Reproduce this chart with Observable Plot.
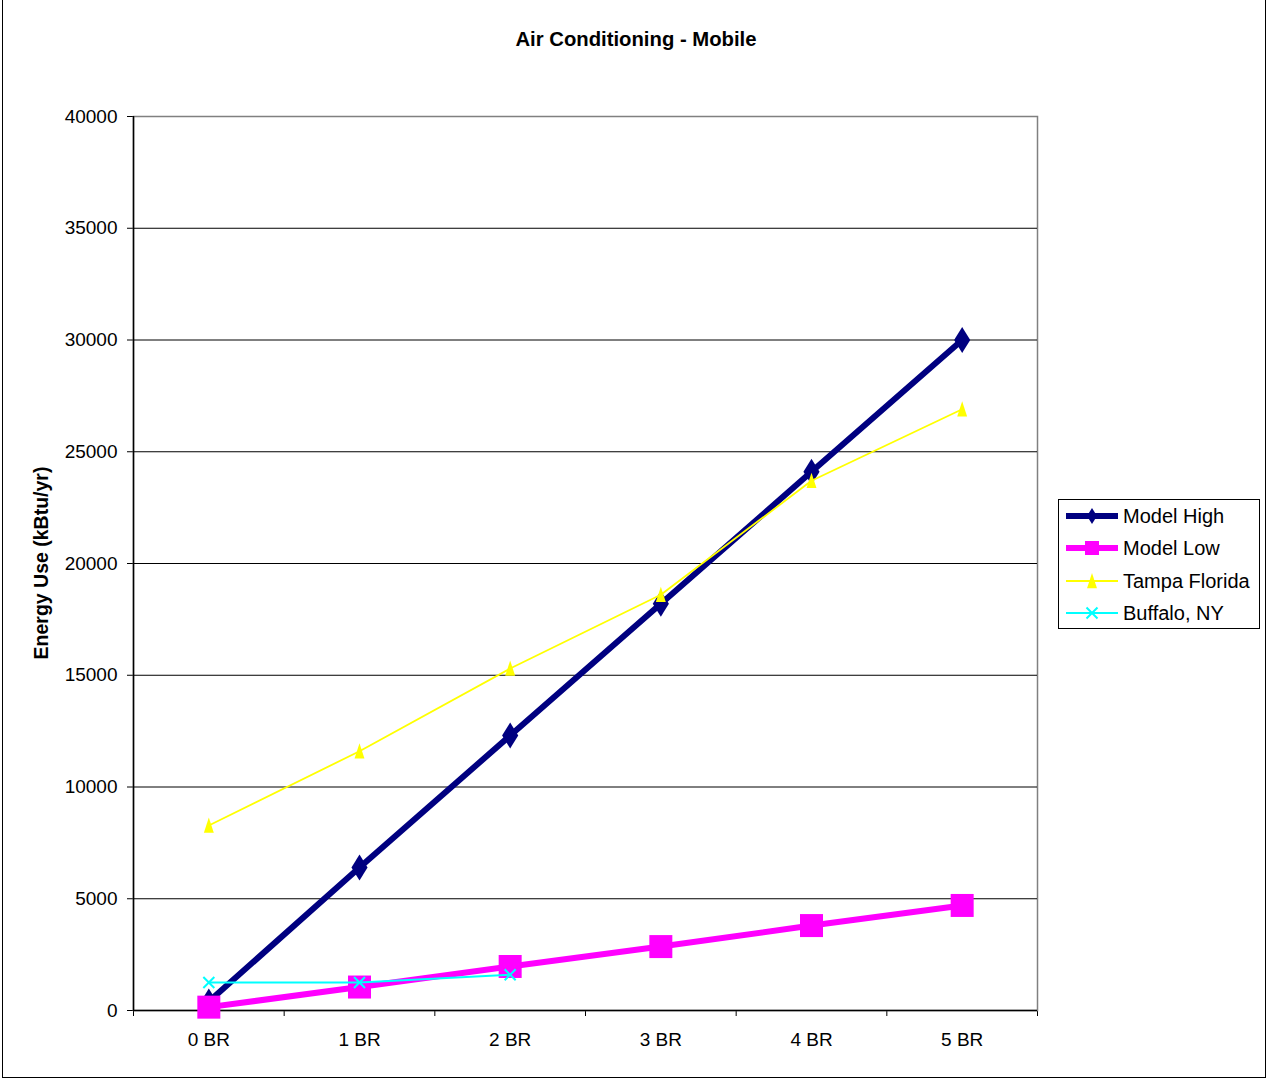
<!DOCTYPE html>
<html>
<head>
<meta charset="utf-8">
<script src="https://cdn.jsdelivr.net/npm/d3@7"></script>
<script src="https://cdn.jsdelivr.net/npm/@observablehq/plot@0.6"></script>
<style>
  html, body { margin: 0; padding: 0; background: #fff; }
  #wrap { position: relative; width: 1268px; height: 1078px; font-family: Arial, "Liberation Sans", sans-serif; overflow: hidden; }
  #border { position: absolute; left: 2px; top: -1px; width: 1264px; height: 1079px; border: 1px solid #000; box-sizing: border-box; pointer-events: none; }
  #title { position: absolute; left: 0; width: 1272px; top: 27px; text-align: center; font-weight: bold; font-size: 20.3px; line-height: 24px; }
  #ylabel { position: absolute; left: 41px; top: 563px; transform: translate(-50%, -50%) rotate(-90deg); white-space: nowrap; font-weight: bold; font-size: 19.5px; line-height: 22px; }
  #legend { position: absolute; left: 1058px; top: 499px; width: 202px; height: 130px; border: 1px solid #000; box-sizing: border-box; background: #fff; }
  .row { position: absolute; left: 6px; height: 26px; display: flex; align-items: center; font-size: 20px; white-space: nowrap; }
  .row svg { margin-right: 4px; }
  #chart { position: absolute; left: 0; top: 0; }
</style>
</head>
<body>
<div id="wrap">
  <div id="chart"></div>
  <div id="title"></div>
  <div id="ylabel"></div>
  <div id="legend"></div>
  <div id="border"></div>
</div>
<script>
const chartTitle = "Air Conditioning - Mobile";
const yLabel = "Energy Use (kBtu/yr)";
const categories = ["0 BR", "1 BR", "2 BR", "3 BR", "4 BR", "5 BR"];
const seriesNames = ["Model High", "Model Low", "Tampa Florida", "Buffalo, NY"];
const modelHigh = [400, 6400, 12300, 18200, 24100, 30000];
const modelLow = [150, 1050, 1970, 2860, 3800, 4700];
const tampaFlorida = [8280, 11600, 15300, 18600, 23700, 26900];
const buffaloNY = [1250, 1250, 1600];
const yTicks = [0, 5000, 10000, 15000, 20000, 25000, 30000, 35000, 40000];

// custom marker shapes (Excel-like)
function sym(fn) { return { draw(ctx, size) { fn(ctx, Math.sqrt(size / Math.PI)); } }; }
const diamond = sym((c, s) => { c.moveTo(0, -s); c.lineTo(0.62 * s, 0); c.lineTo(0, s); c.lineTo(-0.62 * s, 0); c.closePath(); });
const square = sym((c, s) => { c.moveTo(-s, -s); c.lineTo(s, -s); c.lineTo(s, s); c.lineTo(-s, s); c.closePath(); });
const triangle = sym((c, s) => { c.moveTo(0, -s); c.lineTo(0.62 * s, 0.9 * s); c.lineTo(-0.62 * s, 0.9 * s); c.closePath(); });
const times = sym((c, s) => { c.moveTo(-s, -s); c.lineTo(s, s); c.moveTo(s, -s); c.lineTo(-s, s); });

const styles = [
  { values: modelHigh, color: "#000080", width: 6, symbol: diamond, r: 13, fill: true },
  { values: modelLow, color: "#FF00FF", width: 6, symbol: square, r: 11.5, fill: true },
  { values: tampaFlorida, color: "#FFFF00", width: 1.8, symbol: triangle, r: 8, fill: true },
  { values: buffaloNY, color: "#00FFFF", width: 2, symbol: times, r: 5.5, fill: false }
];

const seriesMarks = [];
styles.forEach((s, k) => {
  const data = s.values.map((v, i) => ({ i, v, series: seriesNames[k] }));
  seriesMarks.push(Plot.line(data, { x: "i", y: "v", stroke: s.color, strokeWidth: s.width }));
  seriesMarks.push(Plot.dot(data, s.fill
    ? { x: "i", y: "v", symbol: () => s.symbol, r: s.r, fill: s.color, stroke: "none" }
    : { x: "i", y: "v", symbol: () => s.symbol, r: s.r, fill: "none", stroke: s.color, strokeWidth: 2 }));
});

const xDomain = [-0.5, categories.length - 0.5];
const boundaries = categories.map((_, i) => i - 0.5).concat([categories.length - 0.5]);

const chart = Plot.plot({
  width: 1268,
  height: 1078,
  marginLeft: 133,
  marginRight: 231,
  marginTop: 116,
  marginBottom: 68,
  style: { fontFamily: "Arial, 'Liberation Sans', sans-serif", fontSize: "19px", background: "transparent", color: "#000", overflow: "visible" },
  x: { type: "linear", domain: xDomain, ticks: boundaries, tickFormat: () => "", tickSize: 6, label: null },
  y: { domain: [0, 40000], ticks: yTicks, tickFormat: d3.format("d"), tickSize: 6, tickPadding: 10, label: null },
  symbol: { type: "identity" },
  marks: [
    Plot.frame({ stroke: "#808080", strokeWidth: 1.5 }),
    Plot.ruleY(yTicks.slice(1, -1), { stroke: "#000", strokeWidth: 1 }),
    Plot.ruleX([xDomain[0]], { stroke: "#000", strokeWidth: 1.5 }),
    Plot.ruleY([0], { stroke: "#000", strokeWidth: 1.5 }),
    ...seriesMarks,
    Plot.text(categories, { x: (d, i) => i, frameAnchor: "bottom", dy: 35, fontSize: 19, fill: "#000" })
  ]
});
document.getElementById("chart").appendChild(chart);

document.getElementById("title").textContent = chartTitle;
document.getElementById("ylabel").textContent = yLabel;

// legend
const legend = document.getElementById("legend");
const rowTops = [3, 35, 68, 100];
styles.forEach((s, k) => {
  const row = document.createElement("div");
  row.className = "row";
  row.style.top = rowTops[k] + "px";
  const ns = "http://www.w3.org/2000/svg";
  const svg = document.createElementNS(ns, "svg");
  svg.setAttribute("width", 54);
  svg.setAttribute("height", 26);
  const line = document.createElementNS(ns, "line");
  line.setAttribute("x1", 1); line.setAttribute("x2", 53);
  line.setAttribute("y1", 13); line.setAttribute("y2", 13);
  line.setAttribute("stroke", s.color);
  line.setAttribute("stroke-width", s.width);
  svg.appendChild(line);
  const p = document.createElementNS(ns, "path");
  const sz = k === 1 ? 7 : k === 0 ? 8 : s.r;
  p.setAttribute("d", d3.symbol(s.symbol, sz * sz * Math.PI)());
  p.setAttribute("transform", "translate(27,13)");
  if (s.fill) { p.setAttribute("fill", s.color); }
  else { p.setAttribute("fill", "none"); p.setAttribute("stroke", s.color); p.setAttribute("stroke-width", 2); }
  svg.appendChild(p);
  row.appendChild(svg);
  const t = document.createElement("span");
  t.textContent = seriesNames[k];
  row.appendChild(t);
  legend.appendChild(row);
});
</script>
</body>
</html>
